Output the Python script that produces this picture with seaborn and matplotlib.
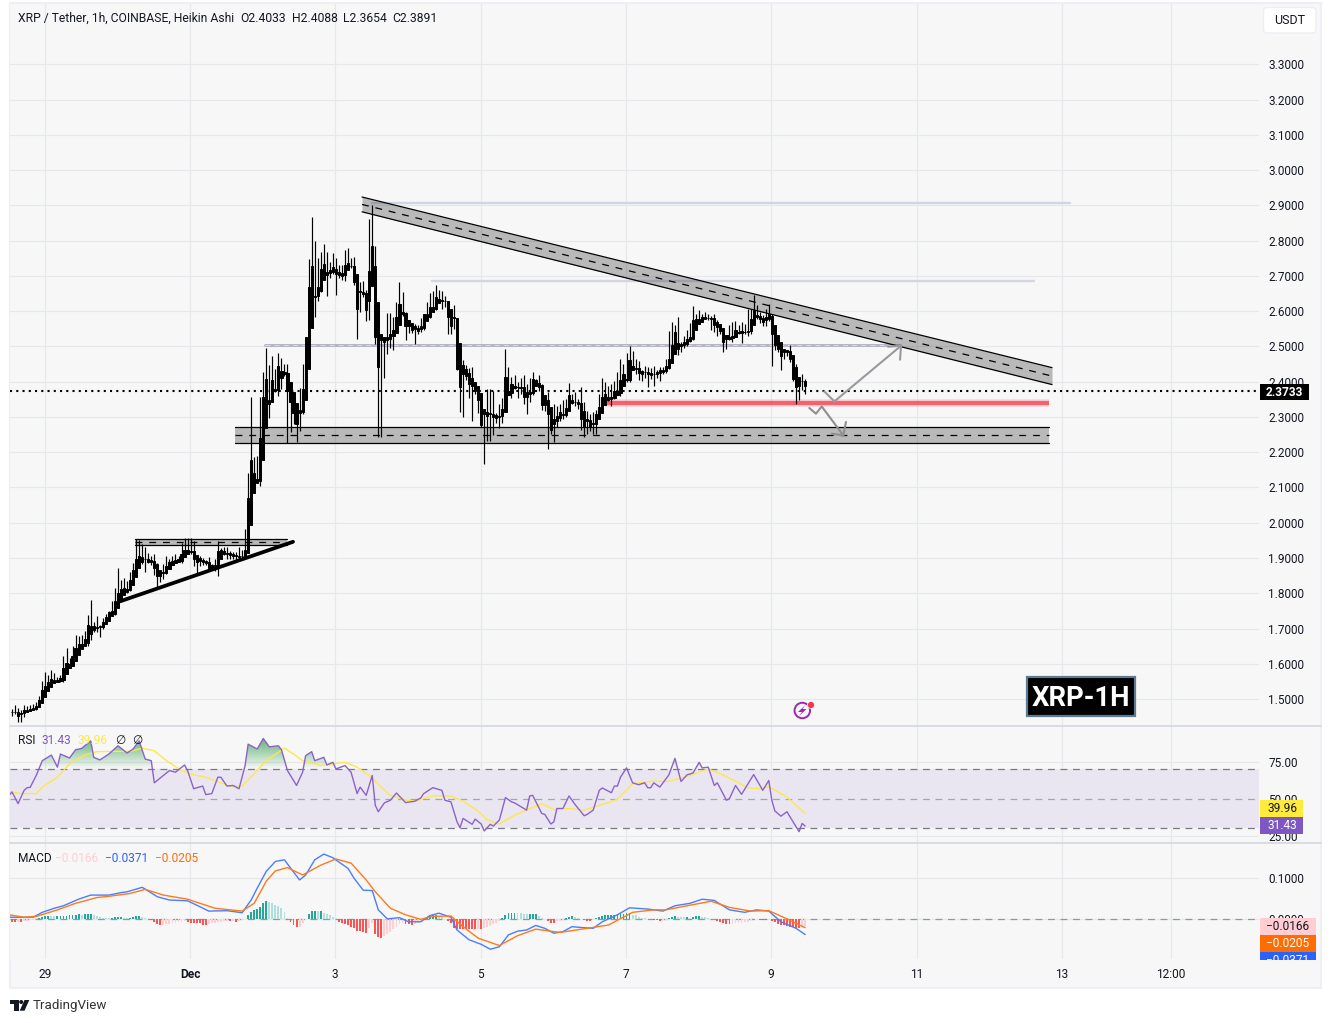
import numpy as np
import pandas as pd
import matplotlib
matplotlib.use('Agg')
import matplotlib.pyplot as plt
import seaborn as sns
from matplotlib.patches import Rectangle, Polygon, FancyBboxPatch, Ellipse
from matplotlib.path import Path
from matplotlib.transforms import Bbox

W, H = 1331, 1023

# hourly Heikin Ashi closes
closes = [
    1.462, 1.464, 1.453, 1.460, 1.468, 1.470, 1.473, 1.475, 1.481, 1.498,
    1.525, 1.538, 1.547, 1.558, 1.553, 1.553, 1.559, 1.588, 1.602, 1.600,
    1.621, 1.645, 1.657, 1.657, 1.669, 1.711, 1.708, 1.706, 1.705, 1.708,
    1.718, 1.733, 1.746, 1.749, 1.777, 1.801, 1.811, 1.814, 1.811, 1.839,
    1.867, 1.898, 1.907, 1.903, 1.898, 1.890, 1.890, 1.872, 1.848, 1.850,
    1.860, 1.877, 1.890, 1.892, 1.894, 1.896, 1.910, 1.924, 1.922, 1.920,
    1.896, 1.890, 1.891, 1.888, 1.886, 1.872, 1.872, 1.879, 1.919, 1.922,
    1.919, 1.911, 1.909, 1.907, 1.905, 1.903, 1.907, 1.924, 2.070, 2.177,
    2.140, 2.125, 2.239, 2.357, 2.408, 2.347, 2.404, 2.380, 2.446, 2.430,
    2.427, 2.375, 2.342, 2.310, 2.280, 2.319, 2.380, 2.526, 2.668, 2.729,
    2.644, 2.670, 2.720, 2.734, 2.704, 2.717, 2.725, 2.706, 2.704, 2.700,
    2.732, 2.736, 2.729, 2.684, 2.607, 2.654, 2.649, 2.604, 2.713, 2.786,
    2.526, 2.442, 2.517, 2.512, 2.526, 2.536, 2.547, 2.583, 2.621, 2.597,
    2.559, 2.557, 2.547, 2.550, 2.545, 2.557, 2.592, 2.592, 2.613, 2.613,
    2.640, 2.634, 2.632, 2.630, 2.585, 2.559, 2.581, 2.437, 2.385, 2.423,
    2.415, 2.394, 2.389, 2.374, 2.349, 2.276, 2.309, 2.302, 2.310, 2.300,
    2.298, 2.304, 2.323, 2.413, 2.373, 2.394, 2.389, 2.385, 2.383, 2.358,
    2.358, 2.371, 2.408, 2.404, 2.385, 2.333, 2.333, 2.309, 2.262, 2.281,
    2.304, 2.314, 2.309, 2.326, 2.361, 2.347, 2.342, 2.337, 2.295, 2.271,
    2.290, 2.271, 2.281, 2.309, 2.328, 2.356, 2.364, 2.356, 2.356, 2.373,
    2.375, 2.404, 2.422, 2.408, 2.462, 2.446, 2.437, 2.424, 2.422, 2.427,
    2.421, 2.418, 2.421, 2.427, 2.432, 2.434, 2.446, 2.465, 2.503, 2.541,
    2.493, 2.506, 2.512, 2.522, 2.528, 2.574, 2.578, 2.578, 2.583, 2.585,
    2.581, 2.578, 2.560, 2.555, 2.545, 2.512, 2.522, 2.522, 2.531, 2.547,
    2.541, 2.544, 2.541, 2.545, 2.578, 2.604, 2.588, 2.578, 2.569, 2.583,
    2.593, 2.536, 2.503, 2.493, 2.474, 2.484, 2.484, 2.465, 2.408, 2.385,
    2.389, 2.402, 2.389,
]

# wick lengths above and below the body, in cents
upper_wick = [
    1, 2, 1, 1, 1.5, 1, 1, 1, 1, 1,
    2.5, 4, 2, 2.3, 1.5, 1, 1, 3.3, 4.3, 1.5,
    3, 3.8, 2.1, 2.6, 2.4, 2.8, 7, 1, 3, .3,
    1.2, .7, .3, 3, 3.8, 7, 2.8, 3, 2, 2,
    2, 5.5, 4.5, 3.2, 2.8, 1.5, 1.7, 2, 1.5, 1.7,
    2.2, 2.8, .6, 1.3, 1.6, 1, 3.2, 3.3, 3.2, 3.4,
    2.8, 1.3, 1.4, 1, .7, 1.6, 1, 1.7, 2.8, .7,
    .8, 1.3, 1, .8, 1, 2.5, 1.7, 5.7, 7, 18,
    1, 5, 11.8, 7, 8.8, 4, 7, 3.3, 3.6, 2,
    2, 2.4, 0, 3, 2, 6.4, 6.9, 0, 8, 13.9,
    7, 8, 4.7, 5.7, 3.3, 2.4, 4, 2.6, 2.4, 2.8,
    4.2, 4.2, 1.4, 2.4, 0, 3, 3.3, 1, 15, 11.5,
    0, 0, 0, 0, 7, 6, 3.8, 4.4, 6.3, 3.3,
    0, 0, .5, 1.4, 1, 2.4, 0, 3.5, 3.8, 4.4,
    3.5, 1.9, 2.3, 1, 0, 1, 3.8, 0, 0, 3.8,
    2.4, 2.5, 4.9, 1, 1, 1, 1, 7, 7, 6.5,
    1, 3.3, 3, 8, 3, 2, 2.4, 1, 2.5, 3.5,
    3.5, 4, 2, 0, 1.5, 1, .7, 3.8, 1, 5.7,
    2.8, 2.4, 3.3, 2.5, 3.5, .5, 2.4, 1, 4.7, 4.7,
    2.8, 1.9, 3.3, 1, 3.8, 5.5, 3.5, 2.4, 3.8, 3,
    5.2, 6, 2.8, 6, 3.8, 2.4, 1.9, 2.2, 1, 1.9,
    1.6, 1.9, 2.5, .5, 1, .8, 1.9, 8, 6.6, 1.9,
    4.2, .7, 1.9, 2.4, 4, 4.2, 1.4, 2.5, 1, 1.2,
    .7, .5, 1.4, 1.4, 1, 0, 1, 3.8, 3.8, 2.6,
    1.4, 2.5, 1.9, 6, 2.8, 4.3, 1.4, 1, 1, 2.4,
    2.8, 0, 2, 1, 1.9, .7, .5, 1.9, .5, 4.2,
    1.9, 2, .55,
]
lower_wick = [
    1, .5, 1.9, 1.9, 1, .5, .5, .3, .5, .3,
    1, 1, .5, .5, .5, .3, .5, 1, 1, .5,
    .5, .5, .5, .5, .5, 2, 4, 1.5, 1.5, 3,
    1, .5, .5, .5, 1, 1, 1, 1, 1, .5,
    .5, .5, 1, 2, 3.7, .5, 1, 2, 3, 1.5,
    1, .5, .5, .5, .5, .5, 1, .5, .5, 1,
    1.9, 3.4, 1.4, .7, .5, 1, .5, 1, 3, .5,
    1, 1.5, 1.3, 1, 1, .7, 1, .5, 1, 1,
    1, 1, 2, 1, .5, 5, .5, 1, 2, 5,
    1, 15, 8.5, 3, 5, 2, 1, 1, 1, 2,
    6, 1.5, 1.5, 3, 6, 1, 1, 6, 1, 1,
    1.4, 1, .5, 1, 8.7, 1, 1, 3.3, 3, 1,
    2, 20, 20, 10, 3.3, 3, 4.7, 1, 1, 1,
    4, 2, 1, 4, 1, .5, 1, .5, 1, 1,
    1, 1, 2.5, 1.9, 5, 2.5, 1, .5, 7, 8.5,
    1, 4, 10, 1, 3.8, .5, 10.8, 7, 7, 5,
    1.5, 3, 2, 1, 1, 2, 1, 3, 1.7, 2,
    5, 1.5, 1, 1, 1, 1.4, 1.5, 10, 1, 3.3,
    1, 1.5, 1.5, 1, .5, 1, 1, 1.5, 3.3, 2.8,
    2, 1, 2, 3, 1, .5, 1, 1, 2.4, .5,
    1, 1.5, 1, 1, 1, 1, 1.5, 2, 2, 1,
    3.5, 1, 3, 1, 2.4, 1, 1, 1, 1, 1,
    1.6, 1, 1, 1, 1, 1, 1, .5, .5, .5,
    .5, 3, 2, 2.4, 1, 2.8, 2, .5, 1, .5,
    .5, 3, .5, 1, 1, 1, 1, 1, 1, 1,
    1, 9, 1.4, 1, 4.2, 1, 1, 1, .5, 4.7,
    3.8, 1.2, 2.4,
]

# RSI, as (hour, value) knots
rsi_hours = [
    -1, 0, 2, 4, 5, 6, 8, 10, 13, 15, 16, 19, 21, 23, 26, 27, 29, 32, 35, 38,
    40, 42, 44, 46, 47, 50, 52, 54, 57, 58, 60, 63, 64, 66, 68, 69, 71, 73, 75, 77,
    78, 81, 83, 85, 88, 89, 91, 94, 96, 97, 99, 100, 103, 104, 106, 107, 110, 112, 114, 115,
    117, 119, 120, 121, 123, 125, 127, 130, 133, 135, 136, 139, 142, 143, 145, 147, 148, 149, 152, 153,
    155, 156, 158, 159, 161, 163, 165, 166, 170, 171, 172, 175, 176, 178, 179, 180, 182, 184, 186, 189,
    190, 192, 194, 195, 198, 199, 200, 201, 203, 205, 207, 209, 210, 211, 212, 214, 217, 219, 221, 223,
    225, 227, 228, 230, 232, 233, 236, 237, 239, 241, 245, 248, 250, 251, 252, 254, 256, 258, 260, 261, 262,
]
rsi_values = [
    52.2, 54.5, 46.6, 55.6, 57.4, 57.6, 65.7, 75.7, 79.5, 71.3, 80.2, 77.5, 83.1, 84.0, 89.1, 78.0, 76.2, 80.2, 85.8, 80.9,
    83.6, 89.1, 76.8, 75.7, 60.7, 65.7, 69.0, 67.9, 72.8, 69.0, 56.7, 58.5, 52.7, 53.4, 64.5, 64.5, 58.5, 58.9, 56.7, 72.4,
    86.9, 83.6, 90.7, 85.1, 85.8, 83.1, 69.0, 58.9, 67.9, 79.1, 81.8, 75.7, 78.0, 72.8, 74.6, 70.1, 72.4, 67.9, 53.4, 57.8,
    52.2, 65.7, 45.5, 41.1, 47.1, 48.9, 53.8, 47.3, 48.2, 50.4, 53.4, 57.4, 55.6, 48.9, 47.8, 34.3, 30.3, 36.6, 32.6, 36.1,
    32.8, 28.1, 32.6, 31.4, 35.5, 50.7, 47.8, 47.1, 42.2, 51.8, 52.2, 39.9, 39.3, 32.8, 34.3, 43.3, 43.3, 51.8, 46.0, 38.4,
    39.3, 42.2, 55.6, 57.2, 54.0, 58.5, 58.5, 64.5, 70.8, 60.7, 59.4, 60.7, 57.4, 57.4, 60.7, 57.8, 66.1, 77.3, 61.6, 66.1,
    67.4, 74.6, 70.8, 71.3, 58.9, 60.7, 48.9, 50.0, 58.9, 52.9, 66.3, 55.6, 62.3, 48.9, 41.7, 38.1, 41.1, 34.3, 27.6, 33.2, 31.43,
]
rsi_ma_hours = [
    -1, 3, 8, 10, 15, 19, 24, 28, 33, 39, 43, 47, 51, 56, 60, 64, 69, 72, 76, 80,
    84, 90, 93, 96, 102, 106, 110, 114, 118, 122, 125, 130, 134, 135, 139, 145, 149, 154, 157, 161,
    165, 169, 175, 179, 184, 189, 197, 200, 205, 212, 217, 224, 230, 234, 239, 243, 247, 250, 256, 262,
]
rsi_ma_values = [
    54.9, 53.4, 53.4, 57.8, 64.5, 73.5, 79.5, 81.8, 82.0, 82.0, 84.2, 82.4, 75.7, 69.0, 66.1, 64.5, 60.7, 58.5, 58.5, 66.8,
    75.7, 84.2, 80.2, 75.7, 72.4, 73.5, 74.6, 71.3, 65.7, 57.8, 52.2, 48.9, 48.2, 49.6, 51.8, 51.8, 48.2, 41.5, 35.5, 32.8,
    37.7, 41.5, 46.6, 42.6, 43.3, 42.2, 47.3, 49.6, 60.1, 61.9, 61.6, 65.7, 70.1, 66.8, 61.9, 57.4, 56.7, 58.1, 51.1, 39.96,
]

# MACD and signal lines
macd_hours = [
    -1, 7, 10, 14, 17, 22, 26, 32, 36, 38, 43, 48, 52, 58, 62, 65, 71, 76, 79, 81,
    84, 87, 90, 92, 95, 97, 100, 103, 106, 111, 113, 116, 119, 121, 124, 128, 131, 135, 138, 141,
    145, 147, 151, 155, 158, 161, 164, 167, 170, 173, 176, 179, 182, 185, 188, 192, 195, 200, 204, 210,
    215, 219, 224, 228, 232, 237, 242, 246, 250, 254, 259, 262,
]
macd_values = [
    .005, .005, .017, .027, .033, .049, .059, .059, .065, .067, .078, .055, .047, .045, .031, .020, .021, .016, .047, .076,
    .117, .141, .145, .125, .096, .108, .145, .159, .150, .124, .100, .071, .070, .023, .001, .004, -.006, -.006, .009, .015,
    .005, -.026, -.050, -.061, -.073, -.067, -.038, -.029, -.026, -.015, -.022, -.034, -.030, -.018, -.020, -.022, -.006, .011, .028, .025,
    .020, .033, .039, .049, .046, .023, .017, .023, .020, -.006, -.022, -.0371,
]
signal_hours = [
    -1, 4, 8, 15, 21, 28, 32, 39, 44, 50, 58, 67, 76, 80, 84, 87, 91, 96, 102, 107,
    112, 117, 120, 125, 130, 135, 139, 145, 149, 154, 161, 167, 173, 181, 190, 197, 205, 212, 216, 223,
    231, 237, 244, 250, 256, 262,
]
signal_values = [
    .011, .005, .007, .023, .039, .053, .056, .063, .073, .059, .049, .027, .020, .039, .093, .118, .126, .108, .132, .147,
    .137, .096, .067, .027, .011, 0, .007, .008, -.018, -.046, -.064, -.040, -.024, -.032, -.022, -.014, .017, .023, .023, .033,
    .044, .029, .020, .021, .001, -.0205,
]

# MACD histogram, hourly, in thousandths
macd_hist = [
    -5.7, -6.5, -5.7, -6.5, -4.1, -3.2, -2.4, -1.6,
    .8, 2.4, 5.7, 8.1, 8.9, 8.1, 7.3, 7.3, 8.1, 8.1,
    8.9, 9.7, 10.5, 11.3, 12.2, 11.3, 12.2, 13, 13.8, 9.7,
    7.3, 5.7, 4.1, 3.2, 2.4, 3.2, 4.9, 5.7, 6.5, 4.1,
    3.2, 3.2, 6.5, 8.1, 8.9, 6.5, 4.1, 1.6, -2.4, -5.7,
    -11.3, -13.8, -13, -11.3, -10.5, -9.7, -8.1, -7.3, -6.5, -4.1,
    -5.7, -8.1, -9.7, -9.7, -9.7, -13, -13.8, -12.2, -9.7, -8.1,
    -6.5, -5.7, -4.9, -4.1, -4.9, -4.1, -5.7, -4.9, -1.6, .8,
    9.7, 17.8, 22.7, 25.9, 30.8, 40.5, 44.6, 42.1, 38.9, 35.6,
    32.4, 28.4, 17.8, 2.4, -6.5, -13, -19.4, -17.8, -9.7, 0,
    12.2, 19.4, 21, 19.4, 20.3, 16.2, 12.2, 9.7, 6.5, .8,
    -6.5, -9.7, -11.3, -13.8, -17.8, -22, -29.2, -29.2, -30.8, -32.4,
    -20.3, -9.7, -36.5, -42.1, -44.6, -40.5, -36.5, -30.8, -24.3, -17.8,
    -12.2, -8.1, -11.3, -12.2, -13, -10.5, -8.1, -4.9, 2.4, 5.7,
    8.1, 9.7, 9.7, 8.1, 5.7, 1.6, -4.9, -8.9, -20.3, -24.3,
    -24.3, -24.3, -24.3, -24.3, -24.3, -24.3, -22.7, -22.7, -20.3, -17.8,
    -16.2, -12.2, -8.1, -4.1, 4.1, 11.3, 14.6, 15.4, 16.2, 15.4,
    14.6, 13, 12.2, 13.8, 13.8, 13.8, 8.1, 2.4, .8, -4.1,
    -8.1, -8.9, -4.9, -3.2, -.8, 2.4, 5.7, 8.1, 6.5, 3.2,
    .8, -2.4, -4.1, -4.1, -.8, 2.4, 6.5, 8.9, 10.5, 10.5,
    10.5, 11.3, 12.2, 13.8, 13.8, 14.6, 15.4, 11.3, 9.7, 6.5,
    4.1, 2.4, 1.6, 0, -.8, -2.4, -3.2, -2.4, -.8, 2.4,
    5.7, 8.1, 6.5, 5.7, 4.9, 4.9, 4.1, 5.7, 7.3, 7.3,
    6.5, 4.9, 3.2, 1.6, 0, -4.9, -7.3, -8.9, -11.3, -12.2,
    -10.5, -9.7, -8.9, -8.1, -7.3, -6.5, -2.4, 0, 1.6, -.8,
    -1.6, -2.4, .8, -3.2, -6.5, -10.5, -13.8, -14.6, -16.2, -17.8,
    -19.4, -20.3, -21.9, -20.3, -16.6,
]

price_ticks = [1.5, 1.6, 1.7, 1.8, 1.9, 2.0, 2.1, 2.2, 2.3, 2.4, 2.5, 2.6, 2.7, 2.8, 2.9, 3.0, 3.1, 3.2, 3.3]
day_ticks = [-1, 1, 3, 5, 7, 9, 11, 13, 14.5]
day_labels = ['29', 'Dec', '3', '5', '7', '9', '11', '13', '12:00']
last_price = 2.3733

# drawings on the price pane: (day, price)
channel_days = [3.368, 12.865]
channel_top = [2.924, 2.440]
channel_bottom = [2.882, 2.392]
support_days = [1.619, 12.82]
support_top = 2.272
support_bottom = 2.227
box_days = [0.243, 2.335]
box_top = 1.955
box_bottom = 1.938
trend_days = [0.036, 2.418]
trend_prices = [1.777, 1.946]
red_days = [6.71, 12.82]
red_price = 2.3405
level_lines = [([3.505, 13.11], 2.908), ([4.33, 12.62], 2.687)]
mid_level_days = [2.032, 10.77]
mid_level = 2.503
up_arrow_days = [9.731, 9.869, 10.787]
up_arrow_prices = [2.3726, 2.3442, 2.5021]
up_head_days = [10.773, 10.787, 10.608]
up_head_prices = [2.4624, 2.5021, 2.4993]
down_arrow_days = [9.524, 9.616, 9.695, 9.992]
down_arrow_prices = [2.3255, 2.3093, 2.33, 2.2478]
down_head_days = [10.029, 9.992, 9.833]
down_head_prices = [2.2859, 2.2478, 2.2527]

start_day = -1.45
x_lim = (-1.4777, 15.714)
step = 1 / 24

closes_a = np.array(closes)
prev_close = np.r_[closes_a[0], closes_a[:-1]]

# Heikin Ashi open: midpoint of the previous candle's body
opens_a = np.zeros(len(closes_a))
opens_a[0] = closes_a[0]
for i in range(1, len(closes_a)):
    opens_a[i] = (opens_a[i - 1] + closes_a[i - 1]) / 2

df = pd.DataFrame({'day': start_day + np.arange(len(closes)) * step, 'open': opens_a, 'close': closes_a})
df['top'] = df[['open', 'close']].max(axis=1)
df['bottom'] = df[['open', 'close']].min(axis=1)
df['high'] = np.maximum(prev_close, closes_a) + np.array(upper_wick) / 100
df['low'] = np.minimum(prev_close, closes_a) - np.array(lower_wick) / 100
df['hist'] = np.array(macd_hist) / 1000

# TradingView tones the histogram by sign and direction
prev = df['hist'].shift(1).fillna(df['hist'])
tone = np.where(df['hist'] >= 0, np.where(df['hist'] >= prev, 'up_strong', 'up_weak'),
                np.where(df['hist'] <= prev, 'down_strong', 'down_weak'))
df['tone'] = tone
tone_colors = {'up_strong': '#26a69a', 'up_weak': '#b2dfdb', 'down_strong': '#ff5252', 'down_weak': '#ffcdd2'}

bg = '#f7f7f7'
grid_c = '#e7e8ec'
sep_c = '#d1d4dc'
ink = '#131722'

sns.set_theme(style='whitegrid', rc={
    'axes.facecolor': bg, 'figure.facecolor': 'white', 'grid.color': grid_c,
    'grid.linewidth': 0.9, 'axes.linewidth': 0, 'text.color': ink,
    'xtick.color': ink, 'ytick.color': ink,
})
plt.rcParams['font.family'] = ['Roboto', 'DejaVu Sans']

fig = plt.figure(figsize=(W / 100, H / 100), dpi=100)


def pane(top, bottom):
    return fig.add_axes([10 / W, 1 - bottom / H, 1249 / W, (bottom - top) / H])


def box(x0, y0, x1, y1, **kw):
    patch = Rectangle((x0 / W, 1 - y1 / H), (x1 - x0) / W, (y1 - y0) / H, transform=fig.transFigure, **kw)
    fig.add_artist(patch)
    return patch


def label(x, y, s, **kw):
    kw.setdefault('fontsize', 8.6)
    kw.setdefault('va', 'center')
    return fig.text(x / W, 1 - y / H, s, **kw)


def pt(x, y):
    return (x / W, 1 - y / H)


box(10, 3, 1321, 988, facecolor=bg, edgecolor='#eeeff4', linewidth=1.6, zorder=-1)

ax = pane(4, 725)
ax_rsi = pane(726, 842)
ax_macd = pane(843, 959)

# ----- price pane
ax.axhline(last_price, color='black', lw=1.5, ls=(0, (1, 2)), dash_capstyle='butt', zorder=2)
for days, level in level_lines:
    ax.plot(days, [level, level], color='#d3d5e4', lw=1.7, zorder=1.5)
ax.plot(mid_level_days, [mid_level, mid_level], color='#b4b5c2', lw=2.1, zorder=1.5)
ax.plot(mid_level_days, [mid_level, mid_level], color='white', lw=0.6, ls=(0, (6, 5)), alpha=0.6, zorder=1.6)
ax.plot(red_days, [red_price, red_price], color='#f23645', lw=5.4, alpha=0.18, solid_capstyle='butt', zorder=2.2)
ax.plot(red_days, [red_price, red_price], color='#f7606c', lw=3, solid_capstyle='butt', zorder=2.3)

ax.vlines(df['day'], df['low'], df['high'], color='black', lw=0.85, zorder=3)
ax.bar(df['day'], df['top'] - df['bottom'], bottom=df['bottom'], width=step * 0.72,
       color='black', edgecolor='black', linewidth=0.7, zorder=3.1)


def band(days, top, bottom):
    top = np.array(top, dtype=float) * np.ones(2)
    bottom = np.array(bottom, dtype=float) * np.ones(2)
    ax.fill_between(days, bottom, top, color='black', alpha=0.25, lw=0, zorder=4)
    ax.plot(days, top, color='black', lw=0.9, zorder=4.1)
    ax.plot(days, bottom, color='black', lw=0.9, zorder=4.1)
    ax.plot(days, (top + bottom) / 2, color='black', lw=0.9, ls=(0, (5.5, 5.5)), zorder=4.1)


band(channel_days, channel_top, channel_bottom)
band(support_days, support_top, support_bottom)
band(box_days, box_top, box_bottom)
ax.plot(trend_days, trend_prices, color='black', lw=2.7, solid_capstyle='round', zorder=4.2)
ax.plot(up_arrow_days, up_arrow_prices, color='#9a9a9e', lw=1.5, zorder=4.3)
ax.plot(up_head_days, up_head_prices, color='#9a9a9e', lw=1.5, zorder=4.3)
ax.plot(down_arrow_days, down_arrow_prices, color='#8f8f93', lw=1.5, zorder=4.3)
ax.plot(down_head_days, down_head_prices, color='#8f8f93', lw=1.5, zorder=4.3)

ax.set_ylim(1.4263, 3.4715)
ax.set_yticks(price_ticks)
ax.set_yticklabels([f'{v:.4f}' for v in price_ticks])

# ----- RSI pane
rsi_df = pd.DataFrame({'day': start_day + np.array(rsi_hours) * step, 'rsi': rsi_values})
ma_df = pd.DataFrame({'day': start_day + np.array(rsi_ma_hours) * step, 'ma': rsi_ma_values})
ax_rsi.axhspan(30, 70, color='#7e57c2', alpha=0.1, lw=0, zorder=0.5)
for level, alpha in [(70, 1), (50, 0.6), (30, 1)]:
    ax_rsi.axhline(level, color='#787b86', lw=0.9, ls=(0, (5.5, 4.5)), alpha=alpha, zorder=1)

# overbought / oversold gradient, clipped to the area beyond the band
for limit, peak, rgb, mask in [(70, 92, (0.2, 0.62, 0.3), rsi_df['rsi'] >= 70),
                               (30, 22, (0.95, 0.3, 0.3), rsi_df['rsi'] <= 30)]:
    area = ax_rsi.fill_between(rsi_df['day'], limit, rsi_df['rsi'], where=mask, interpolate=True,
                               facecolor='none', edgecolor='none')
    ramp = np.zeros((64, 1, 4))
    ramp[..., :3] = rgb
    ramp[..., 3] = np.linspace(0, 0.8, 64)[:, None]
    im = ax_rsi.imshow(ramp, extent=[x_lim[0], x_lim[1], limit, peak], origin='lower', aspect='auto', zorder=1.5)
    im.set_clip_path(Path.make_compound_path(*area.get_paths()), ax_rsi.transData)

sns.lineplot(data=ma_df, x='day', y='ma', color='#fde84a', lw=1.0, errorbar=None, ax=ax_rsi, zorder=2)
sns.lineplot(data=rsi_df, x='day', y='rsi', color='#8a63c9', lw=1.0, errorbar=None, ax=ax_rsi, zorder=3)
ax_rsi.set_ylim(20.6, 99.2)
ax_rsi.set_yticks([25, 50, 75])
ax_rsi.set_yticklabels(['25.00', '50.00', '75.00'])

# ----- MACD pane
macd_df = pd.DataFrame({'day': start_day + np.array(macd_hours) * step, 'macd': macd_values})
signal_df = pd.DataFrame({'day': start_day + np.array(signal_hours) * step, 'signal': signal_values})
ax_macd.axhline(0, color='#787b86', lw=0.9, ls=(0, (5.5, 4.5)), alpha=0.75, zorder=1.5)
sns.barplot(data=df, x='day', y='hist', hue='tone', palette=tone_colors, native_scale=True, dodge=False,
            errorbar=None, saturation=1, width=0.62, legend=False, linewidth=0, edgecolor='none',
            ax=ax_macd, zorder=2)
sns.lineplot(data=macd_df, x='day', y='macd', color='#4a7dff', lw=1.0, errorbar=None, ax=ax_macd, zorder=3)
sns.lineplot(data=signal_df, x='day', y='signal', color='#ff7a1a', lw=1.0, errorbar=None, ax=ax_macd, zorder=3.1)
ax_macd.set_ylim(-0.0968, 0.186)
ax_macd.set_yticks([0, 0.1])
ax_macd.set_yticklabels(['0.0000', '0.1000'])

for a in (ax, ax_rsi, ax_macd):
    a.set_xlim(*x_lim)
    a.set_xlabel('')
    a.set_ylabel('')
    a.set_xticks(day_ticks)
    a.grid(True)
    a.tick_params(axis='y', labelleft=False, labelright=True, left=False, right=False, length=0, pad=6.5, labelsize=8.5)
    a.tick_params(axis='x', bottom=False, labelbottom=False, length=0)
    a.set_axisbelow(True)
    for s in a.spines.values():
        s.set_visible(False)

ax_macd.tick_params(axis='x', labelbottom=True, pad=6.6, labelsize=8.6)
ax_macd.set_xticklabels(day_labels)
ax_macd.get_xticklabels()[1].set_fontweight('bold')

# ----- pane separators, over the axes
for y in (725.5, 842.5):
    fig.add_artist(plt.Line2D([10 / W, 1321 / W], [1 - y / H, 1 - y / H], color=sep_c, lw=1.1))

# ----- headers
label(18, 18, 'XRP / Tether, 1h, COINBASE, Heikin Ashi', color=ink, fontsize=8.75)
for x, s in [(240.5, 'O2.4033'), (292, 'H2.4088'), (343, 'L2.3654'), (392, 'C2.3891')]:
    label(x, 18, s, color=ink, fontsize=8.75)

label(18, 741, 'RSI', color=ink)
label(41, 741, '31.43', color='#7e57c2')
label(78, 741, '39.96', color='#fde84a')
label(115, 741, '∅', color=ink)
label(132, 741, '∅', color=ink)

label(18, 858, 'MACD', color=ink)
label(55, 858, '−0.0166', color='#ffcdd2')
label(105, 858, '−0.0371', color='#2962ff')
label(155, 858, '−0.0205', color='#ff6d00')

# ----- scale tags
usdt = FancyBboxPatch((1263.5 / W, 1 - 33 / H), 52.5 / W, 25.5 / H, boxstyle='round,pad=0,rounding_size=0.003',
                      transform=fig.transFigure, facecolor='white', edgecolor='#eceef3', lw=1)
fig.add_artist(usdt)
label(1289.5, 20.5, 'USDT', color=ink, ha='center', fontsize=9)

box(1260, 383.5, 1309, 400, facecolor='black', lw=0)
label(1284.5, 392, '2.3733', color='white', ha='center', fontweight='bold')

box(1260, 800, 1303, 817, facecolor='#ffeb3b', lw=0)
label(1282, 808.5, '39.96', color=ink, ha='center')
box(1260, 817, 1303, 833.5, facecolor='#7e57c2', lw=0)
label(1282, 825.5, '31.43', color='white', ha='center')

box(1260, 918, 1316, 935, facecolor='#ffcdd2', lw=0)
label(1288, 926.5, '−0.0166', color=ink, ha='center')
box(1260, 935, 1316, 952, facecolor='#ff6d00', lw=0)
label(1288, 943.5, '−0.0205', color='white', ha='center')
box(1260, 952, 1316, 959.5, facecolor='#2962ff', lw=0)
clipped = label(1288, 960.5, '−0.0371', color='white', ha='center')
clipped.set_clip_box(Bbox([[1260, H - 959.5], [1316, H - 952]]))
clipped.set_clip_on(True)

# ----- XRP-1H tag
box(1027, 677, 1135, 716, facecolor='black', edgecolor='#5d7a93', linewidth=1.6, zorder=2)
label(1081, 698, 'XRP-1H', color='white', ha='center', fontsize=19.8, fontweight='bold', zorder=3)

# ----- bolt icon
icon_x, icon_y = 802.3, 710.5
fig.add_artist(Ellipse(pt(icon_x, icon_y), 15.5 / W, 15.5 / H, transform=fig.transFigure,
                       facecolor='none', edgecolor='#9c27b0', lw=1.4))
fig.add_artist(Polygon([pt(805.5, 705), pt(798, 712), pt(802, 712), pt(799, 716), pt(806.5, 709), pt(802.5, 709)],
                       transform=fig.transFigure, facecolor='#9c27b0', edgecolor='none'))
fig.add_artist(Ellipse(pt(811, 705), 7 / W, 7 / H, transform=fig.transFigure,
                       facecolor='#f23645', edgecolor='white', lw=0.5))

# ----- TradingView footer
fig.add_artist(Polygon([pt(10, 1000), pt(18.5, 1000), pt(18.5, 1010.7), pt(14, 1010.7), pt(14, 1004), pt(10, 1004)],
                       transform=fig.transFigure, facecolor='#131722', edgecolor='none'))
fig.add_artist(Ellipse(pt(21.2, 1002), 4 / W, 4 / H, transform=fig.transFigure,
                       facecolor='#131722', edgecolor='none'))
fig.add_artist(Polygon([pt(24.5, 1000), pt(29.3, 1000), pt(24.5, 1010.7), pt(19.7, 1010.7)],
                       transform=fig.transFigure, facecolor='#131722', edgecolor='none'))
label(33, 1005.5, 'TradingView', color='#333333', fontsize=9.6)

fig.savefig('out.png', dpi=100)
